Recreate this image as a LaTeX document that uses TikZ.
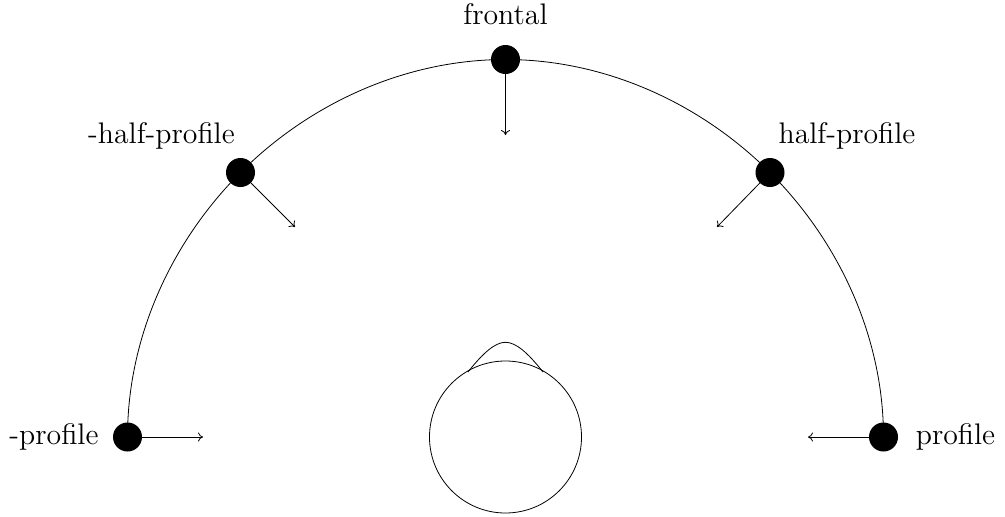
\documentclass[tikz,border=0pt]{standalone}
\usetikzlibrary{arrows.meta}
\begin{document}
\begin{tikzpicture}[x=1pt,y=-1pt,
  dotn/.style={circle,fill=black,inner sep=0pt,minimum size=29pt},
  lab/.style={font=\fontsize{12}{14}\selectfont,inner sep=0pt,anchor=base,scale=2.48},
  gaze/.style={-{To[length=5pt,width=9pt]},line width=0.8pt},
  thin line/.style={line width=0.8pt},
  rim/.style={looseness=0.88}]
\useasboundingbox (0,0) rectangle (1005,517);
\node[dotn] (p1) at (127.5,437) {};
\node[dotn] (p2) at (240.5,172.5) {};
\node[dotn] (p3) at (505.5,59.5) {};
\node[dotn] (p4) at (770,172.5) {};
\node[dotn] (p5) at (883.5,437) {};
\draw[thin line] (p1.center) to[rim,out=90,in=225] (p2.center) to[rim,out=45,in=180] (p3.center) to[rim,out=0,in=135] (p4.center) to[rim,out=-45,in=90] (p5.center);
\coordinate (e1) at (203,437);
\coordinate (e2) at (295,227);
\coordinate (e3) at (505.5,135);
\coordinate (e4) at (717,227);
\coordinate (e5) at (808,437);
\draw[gaze] (p1.center) -- (e1);
\draw[gaze] (p2.center) -- (e2);
\draw[gaze] (p3.center) -- (e3);
\draw[gaze] (p4.center) -- (e4);
\draw[gaze] (p5.center) -- (e5);
\node[circle,draw,line width=0.8pt,minimum size=152pt,inner sep=0pt] (head) at (505.5,437) {};
\coordinate (n1) at (468,372);
\coordinate (n2) at (543,372);
\coordinate (nt) at (505.5,342.3);
\draw[thin line] (n1) .. controls (483,353) and (495,342.3) .. (nt) .. controls (516,342.3) and (528,353) .. (n2);
\node[lab] (t1) at (54,444.5) {-profile};
\node[lab] (t2) at (161.5,143) {-half-profile};
\node[lab] (t3) at (505.5,24) {frontal};
\node[lab] (t4) at (847,143) {half-profile};
\node[lab] (t5) at (955.5,444.5) {profile};
\end{tikzpicture}
\end{document}
